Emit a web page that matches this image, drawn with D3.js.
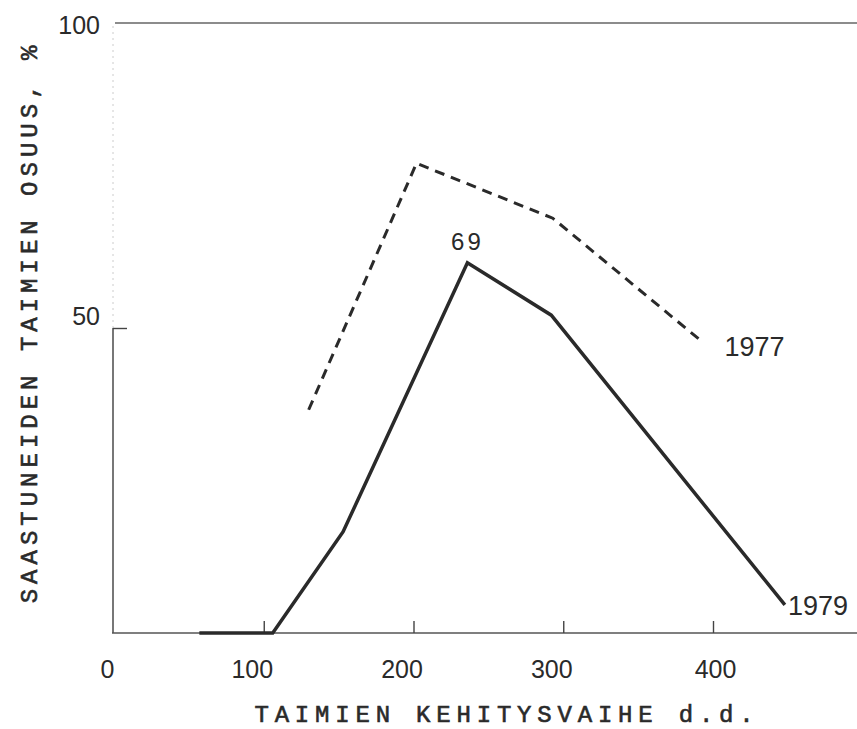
<!DOCTYPE html>
<html>
<head>
<meta charset="utf-8">
<script src="https://cdn.jsdelivr.net/npm/d3@7"></script>
<style>
  body { margin: 0; background: #fff; }
  svg { display: block; }
  .tick text { font-family: "Liberation Sans", Arial, sans-serif; fill: #2a2a2a; }
  .title { font-family: "Liberation Mono", "DejaVu Sans Mono", monospace; fill: #2a2a2a; stroke: #2a2a2a; stroke-width: 0.6; }
</style>
</head>
<body>
<div id="chart"></div>
<script>
// data (degree days vs share of infected seedlings, %)
const dd1979 = [57, 106, 153, 236, 292, 448];
const pct1979 = [0, 0, 16.6, 60.7, 52.1, 4.6];
const dd1977 = [130, 202, 293, 393];
const pct1977 = [36.6, 77.0, 68.0, 47.7];
const xTicks = [0, 100, 200, 300, 400];
const yTicks = [50, 100];
const peakLabel = "69";

const width = 857, height = 729;
const ink = '#2a2a2a';

const svg = d3.select('#chart').append('svg')
    .attr('width', width)
    .attr('height', height);

const x = d3.scaleLinear().domain([0, 400]).range([114, 713]);
const y = d3.scaleLinear().domain([0, 100]).range([633, 23]);

// x axis baseline, runs past the last tick
svg.append('line')
    .attr('x1', 112).attr('x2', width)
    .attr('y1', y(0)).attr('y2', y(0))
    .attr('stroke', '#555').attr('stroke-width', 1.6);

// top 100 line
svg.append('line')
    .attr('x1', 115).attr('x2', width)
    .attr('y1', y(100)).attr('y2', y(100))
    .attr('stroke', '#666').attr('stroke-width', 1.4);

// y axis: solid up to 50, faint above
svg.append('line')
    .attr('x1', 113).attr('x2', 113)
    .attr('y1', y(0)).attr('y2', y(50))
    .attr('stroke', '#555').attr('stroke-width', 1.6);
svg.append('line')
    .attr('x1', 113).attr('x2', 113)
    .attr('y1', y(50)).attr('y2', y(100))
    .attr('stroke', '#ccc').attr('stroke-width', 1)
    .attr('stroke-dasharray', '2,4');

let xAxis = svg.append('g')
    .attr('transform', 'translate(0,' + y(0) + ')')
    .call(d3.axisBottom(x).tickValues(xTicks).tickSize(-12).tickPadding(0).tickFormat(d3.format('d')));
xAxis.select('.domain').remove();
xAxis.selectAll('.tick line')
    .attr('stroke', '#444').attr('stroke-width', 1.4)
    .filter(d => d === 0).remove();
xAxis.selectAll('.tick text')
    .attr('font-size', 25)
    .attr('y', 45)
    .attr('dy', 0)
    .attr('x', d => d === 0 ? -7 : (d === 400 ? 2 : -12));

let yAxis = svg.append('g')
    .attr('transform', 'translate(113,0)')
    .call(d3.axisLeft(y).tickValues(yTicks).tickSize(-14).tickPadding(13));
yAxis.select('.domain').remove();
yAxis.selectAll('.tick line')
    .attr('stroke', '#444').attr('stroke-width', 1.4)
    .filter(d => d === 100).remove();
yAxis.selectAll('.tick text')
    .attr('font-size', 25)
    .attr('dy', d => d === 100 ? '0.4em' : '-0.15em');

const line = d3.line()
    .x(d => x(d[0]))
    .y(d => y(d[1]));

// 1977, dashed
svg.append('path')
    .datum(dd1977.map((d, i) => [d, pct1977[i]]))
    .attr('d', line)
    .attr('fill', 'none')
    .attr('stroke', ink)
    .attr('stroke-width', 3)
    .attr('stroke-dasharray', '10,7');

// 1979, solid
svg.append('path')
    .datum(dd1979.map((d, i) => [d, pct1979[i]]))
    .attr('d', line)
    .attr('fill', 'none')
    .attr('stroke', ink)
    .attr('stroke-width', 3.5)
    .attr('stroke-linejoin', 'miter');

// annotations
const peakIdx = d3.maxIndex(pct1979);
svg.append('text')
    .attr('x', x(dd1979[peakIdx]))
    .attr('y', y(pct1979[peakIdx]) - 13)
    .attr('text-anchor', 'middle')
    .attr('font-family', '"Liberation Sans", Arial, sans-serif')
    .attr('font-size', 24)
    .attr('letter-spacing', 3)
    .attr('fill', ink)
    .text(peakLabel);

svg.append('text')
    .attr('x', x(dd1977[dd1977.length - 1]) + 22)
    .attr('y', y(pct1977[pct1977.length - 1]) + 14)
    .attr('font-family', '"Liberation Sans", Arial, sans-serif')
    .attr('font-size', 27)
    .attr('fill', ink)
    .text('1977');

svg.append('text')
    .attr('x', x(dd1979[dd1979.length - 1]) + 3)
    .attr('y', y(pct1979[pct1979.length - 1]) + 10)
    .attr('font-family', '"Liberation Sans", Arial, sans-serif')
    .attr('font-size', 27)
    .attr('fill', ink)
    .text('1979');

// axis titles
svg.append('text')
    .attr('class', 'title')
    .attr('x', 507).attr('y', 722)
    .attr('text-anchor', 'middle')
    .attr('font-size', 24)
    .attr('letter-spacing', 5.8)
    .text('TAIMIEN KEHITYSVAIHE d.d.');

svg.append('text')
    .attr('class', 'title')
    .attr('transform', 'translate(37,322) rotate(-90)')
    .attr('text-anchor', 'middle')
    .attr('font-size', 24)
    .attr('letter-spacing', 5)
    .text('SAASTUNEIDEN TAIMIEN OSUUS, %');
</script>
</body>
</html>
